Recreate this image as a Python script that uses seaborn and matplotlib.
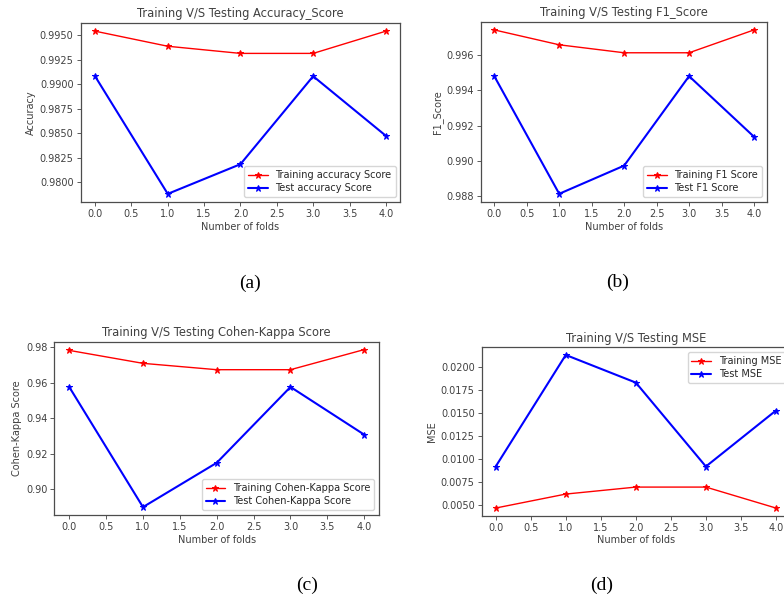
import matplotlib
matplotlib.use("Agg")
import matplotlib.pyplot as plt
import seaborn as sns
import numpy as np

folds = [0, 1, 2, 3, 4]

train_acc = [0.99544, 0.99390, 0.99317, 0.99317, 0.99544]
test_acc = [0.99084, 0.97883, 0.98186, 0.99084, 0.98476]

train_f1 = [0.99740, 0.99656, 0.99611, 0.99611, 0.99740]
test_f1 = [0.99479, 0.98815, 0.98974, 0.99479, 0.99137]

train_kappa = [0.97815, 0.97087, 0.96730, 0.96730, 0.97860]
test_kappa = [0.95760, 0.89010, 0.91500, 0.95760, 0.93080]

train_mse = [0.00464, 0.00616, 0.00692, 0.00692, 0.00464]
test_mse = [0.00916, 0.02130, 0.01829, 0.00916, 0.01525]

panels = [
    dict(title="Training V/S Testing Accuracy_Score", ylabel="Accuracy",
         train=train_acc, test=test_acc,
         labels=("Training accuracy Score", "Test accuracy Score"),
         loc="lower right", pos=[0.1027, 0.6605, 0.408, 0.3008],
         yticks=[0.9800, 0.9825, 0.9850, 0.9875, 0.9900, 0.9925, 0.9950], fmt="%.4f",
         caption="(a)", cpos=(0.319, 0.524)),
    dict(title="Training V/S Testing F1_Score", ylabel="F1_Score",
         train=train_f1, test=test_f1,
         labels=("Training F1 Score", "Test F1 Score"),
         loc="lower right", pos=[0.6139, 0.6605, 0.3644, 0.303],
         yticks=[0.988, 0.990, 0.992, 0.994, 0.996], fmt="%.3f",
         caption="(b)", cpos=(0.788, 0.526)),
    dict(title="Training V/S Testing Cohen-Kappa Score", ylabel="Cohen-Kappa Score",
         train=train_kappa, test=test_kappa,
         labels=("Training Cohen-Kappa Score", "Test Cohen-Kappa Score"),
         loc="lower right", pos=[0.0695, 0.1345, 0.4139, 0.2912],
         yticks=[0.90, 0.92, 0.94, 0.96, 0.98], fmt="%.2f",
         caption="(c)", cpos=(0.392, 0.017)),
    dict(title="Training V/S Testing MSE", ylabel="MSE",
         train=train_mse, test=test_mse,
         labels=("Training MSE", "Test MSE"),
         loc="upper right", pos=[0.6144, 0.1333, 0.3932, 0.283],
         yticks=[0.0050, 0.0075, 0.0100, 0.0125, 0.0150, 0.0175, 0.0200], fmt="%.4f",
         caption="(d)", cpos=(0.767, 0.017)),
]

sns.set_theme(style="ticks")
plt.rcParams['font.family'] = ['DejaVu Sans']

fig = plt.figure(figsize=(7.84, 5.95), dpi=100)
fs = 7.0
for p in panels:
    ax = fig.add_axes(p["pos"])
    sns.lineplot(x=folds, y=p["train"], color="red", marker="*", markersize=5,
                 markeredgecolor="red", linewidth=1.0, label=p["labels"][0], ax=ax)
    sns.lineplot(x=folds, y=p["test"], color="blue", marker="*", markersize=5,
                 markeredgecolor="blue", linewidth=1.5, label=p["labels"][1], ax=ax)
    ax.set_title(p["title"], fontsize=8.3, color=".25", pad=4)
    ax.set_xlabel("Number of folds", fontsize=fs, color=".25", labelpad=2)
    ax.set_ylabel(p["ylabel"], fontsize=fs, color=".25", labelpad=3)
    ax.set_xticks([0.0, 0.5, 1.0, 1.5, 2.0, 2.5, 3.0, 3.5, 4.0])
    ax.xaxis.set_major_formatter(matplotlib.ticker.FormatStrFormatter("%.1f"))
    ax.set_yticks(p["yticks"])
    ax.yaxis.set_major_formatter(matplotlib.ticker.FormatStrFormatter(p["fmt"]))
    ax.tick_params(labelsize=fs, colors=".25", length=3, width=0.6, pad=2)
    for s in ax.spines.values():
        s.set_color(".3")
        s.set_linewidth(0.9)
    leg = ax.legend(loc=p["loc"], fontsize=fs, frameon=True, handlelength=2.0,
                    borderpad=0.4, labelspacing=0.3)
    leg.get_frame().set_edgecolor(".8")
    fig.text(p["cpos"][0], p["cpos"][1], p["caption"], ha="center", va="center",
             fontsize=14, family="Liberation Serif", color="black")

fig.savefig("out.png", dpi=100)
